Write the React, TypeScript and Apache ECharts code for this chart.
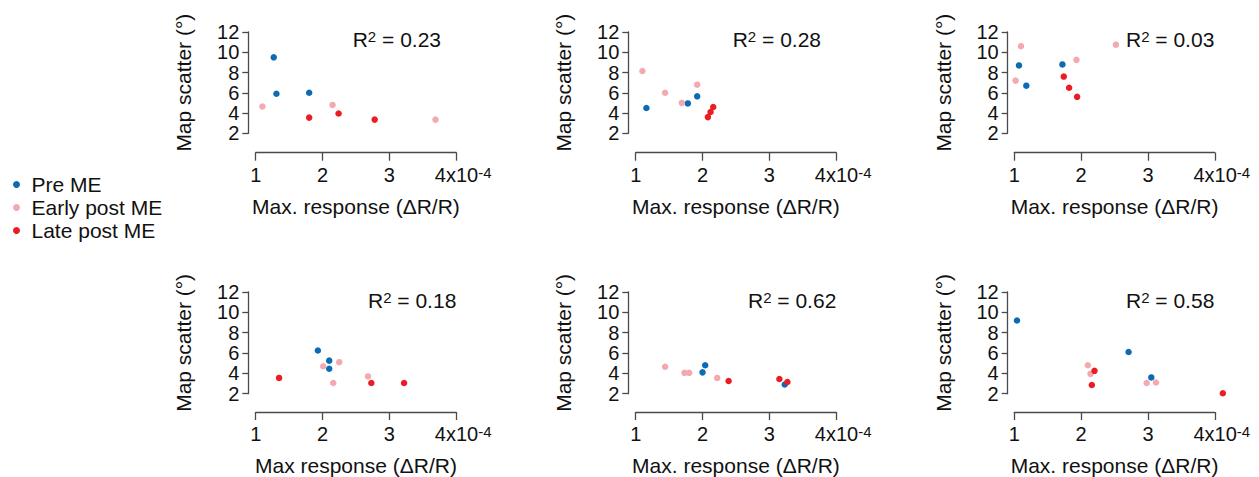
import React, { useEffect, useRef } from "react";
import * as echarts from "echarts";

// ---- data: [max response (x1e-4), map scatter (deg)] ----
const p1Pre = [[1.27, 9.5], [1.31, 5.9], [1.8, 6.0]];
const p1Early = [[1.1, 4.65], [2.15, 4.8], [3.69, 3.35]];
const p1Late = [[1.8, 3.55], [2.24, 3.95], [2.78, 3.35]];

const p2Pre = [[1.16, 4.5], [1.78, 4.95], [1.92, 5.65]];
const p2Early = [[1.1, 8.15], [1.44, 6.0], [1.69, 5.0], [1.92, 6.8]];
const p2Late = [[2.08, 3.6], [2.12, 4.1], [2.16, 4.6]];

const p3Pre = [[1.07, 8.7], [1.18, 6.7], [1.72, 8.8]];
const p3Early = [[1.1, 10.6], [1.02, 7.2], [1.93, 9.25], [2.52, 10.75]];
const p3Late = [[1.74, 7.6], [1.82, 6.5], [1.94, 5.6]];

const p4Pre = [[1.93, 6.25], [2.1, 5.25], [2.1, 4.45]];
const p4Early = [[2.01, 4.7], [2.25, 5.1], [2.16, 3.05], [2.68, 3.7]];
const p4Late = [[1.35, 3.55], [2.73, 3.05], [3.22, 3.05]];

const p5Pre = [[2.04, 4.8], [2.0, 4.1], [3.23, 2.9]];
const p5Early = [[1.44, 4.65], [1.73, 4.05], [1.8, 4.05], [2.22, 3.55]];
const p5Late = [[2.39, 3.25], [3.15, 3.45], [3.27, 3.15]];

const p6Pre = [[1.04, 9.2], [2.71, 6.1], [3.05, 3.6]];
const p6Early = [[2.1, 4.8], [2.14, 3.95], [2.98, 3.05], [3.12, 3.1]];
const p6Late = [[2.2, 4.25], [2.16, 2.85], [4.12, 2.05]];

const groups = ["Pre ME", "Early post ME", "Late post ME"];
const groupColors = ["#0d6bb6", "#f4a8b0", "#ec1c24"];
const panels = [
  [p1Pre, p1Early, p1Late],
  [p2Pre, p2Early, p2Late],
  [p3Pre, p3Early, p3Late],
  [p4Pre, p4Early, p4Late],
  [p5Pre, p5Early, p5Late],
  [p6Pre, p6Early, p6Late],
];
const r2Values = ["0.23", "0.28", "0.03", "0.18", "0.62", "0.58"];
const xNames = [
  "Max. response (\u0394R/R)",
  "Max. response (\u0394R/R)",
  "Max. response (\u0394R/R)",
  "Max response (\u0394R/R)",
  "Max. response (\u0394R/R)",
  "Max. response (\u0394R/R)",
];
const yName = "Map scatter (\u00b0)";
const xTicks = [1, 2, 3, 4];

// ---- layout ----
const gridLefts = [255.7, 635.7, 1014.3, 255.7, 635.7, 1014.3];
const gridTops = [32, 32, 32, 292, 292, 292];
const gridHeights = [101.3, 101.3, 101.3, 102, 102, 102];
const gridWidth = 200.5;
const xOffsets = [19.4, 19.4, 19.4, 18.3, 18.3, 18.3];
const yOffsets = [7.4, 7.4, 6.6, 7.4, 7.4, 6.6];
const r2Pos = [
  [352.7, 40], [732.7, 40], [1126, 40],
  [368, 301], [748, 301], [1126, 301],
];

const FONT = "'Liberation Sans', Arial, sans-serif";
const FS = 21;
const TFS = 20;
const TXT = "#111";
const AX = "#4a4a4a";

export default function App() {
  const ref = useRef<HTMLDivElement>(null);
  useEffect(() => {
    if (!ref.current) return;
    const chart = echarts.init(ref.current, undefined, { renderer: "svg" });
    const grid: any[] = [];
    const xAxis: any[] = [];
    const yAxis: any[] = [];
    const series: any[] = [];
    const graphic: any[] = [];
    panels.forEach((pdata, i) => {
      grid.push({
        left: gridLefts[i],
        top: gridTops[i],
        width: gridWidth,
        height: gridHeights[i],
        containLabel: false,
      });
      xAxis.push({
        gridIndex: i,
        type: "value",
        min: xTicks[0],
        max: xTicks[xTicks.length - 1],
        interval: 1,
        position: "bottom",
        offset: xOffsets[i],
        axisLine: { show: true, lineStyle: { color: AX, width: 1.3 } },
        axisTick: { show: true, length: 8, lineStyle: { color: AX, width: 1.3 } },
        splitLine: { show: false },
        axisLabel: {
          margin: 12,
          color: TXT,
          fontFamily: FONT,
          fontSize: TFS,
          showMinLabel: true,
          showMaxLabel: true,
          formatter: (v: number) =>
            v === 4 ? "{sp|}{a|4x10}{s|-4}" : "{a|" + v + "}",
          rich: {
            a: { fontSize: TFS, color: TXT, fontFamily: FONT, verticalAlign: "top", lineHeight: 22 },
            s: { fontSize: 15, color: TXT, fontFamily: FONT, verticalAlign: "top", lineHeight: 15 },
            sp: { width: 14, lineHeight: 15, verticalAlign: "top" },
          },
        },
        name: xNames[i],
        nameLocation: "middle",
        nameGap: 43,
        nameTextStyle: { color: TXT, fontFamily: FONT, fontSize: FS },
      });
      yAxis.push({
        gridIndex: i,
        type: "value",
        min: 2,
        max: 12,
        interval: 2,
        offset: yOffsets[i],
        axisLine: { show: true, lineStyle: { color: AX, width: 1.3 } },
        axisTick: { show: true, length: 6, lineStyle: { color: AX, width: 1.3 } },
        splitLine: { show: false },
        axisLabel: {
          margin: 9,
          color: TXT,
          fontFamily: FONT,
          fontSize: TFS,
          lineHeight: 14,
          showMinLabel: true,
          showMaxLabel: true,
          hideOverlap: false,
        },
        name: yName,
        nameLocation: "middle",
        nameGap: 54,
        nameTextStyle: { color: TXT, fontFamily: FONT, fontSize: FS },
      });
      pdata.forEach((d, g) => {
        series.push({
          type: "scatter",
          name: groups[g],
          xAxisIndex: i,
          yAxisIndex: i,
          data: d,
          symbol: "circle",
          symbolSize: 6.5,
          clip: false,
          itemStyle: { color: groupColors[g], opacity: 1 },
        });
      });
      graphic.push({
        type: "text",
        x: r2Pos[i][0],
        y: r2Pos[i][1],
        style: {
          text: "{r|R}{s|2}{r| = " + r2Values[i] + "}",
          verticalAlign: "middle",
          rich: {
            r: { fontSize: FS, fill: TXT, fontFamily: FONT, verticalAlign: "top", lineHeight: 23 },
            s: { fontSize: 15, fill: TXT, fontFamily: FONT, verticalAlign: "top", lineHeight: 15 },
          },
        },
      });
    });
    chart.setOption({
      animation: false,
      backgroundColor: "#fff",
      color: groupColors,
      legend: {
        orient: "vertical",
        left: 8,
        top: 169,
        data: groups,
        icon: "circle",
        itemWidth: 20,
        itemHeight: 7,
        itemGap: 2,
        textStyle: { color: TXT, fontFamily: FONT, fontSize: FS },
      },
      grid,
      xAxis,
      yAxis,
      series,
      graphic,
    });
    return () => chart.dispose();
  }, []);
  return (
    <div
      ref={ref}
      style={{ position: "absolute", left: 0, top: 0, width: 1259, height: 477, background: "#fff" }}
    />
  );
}
